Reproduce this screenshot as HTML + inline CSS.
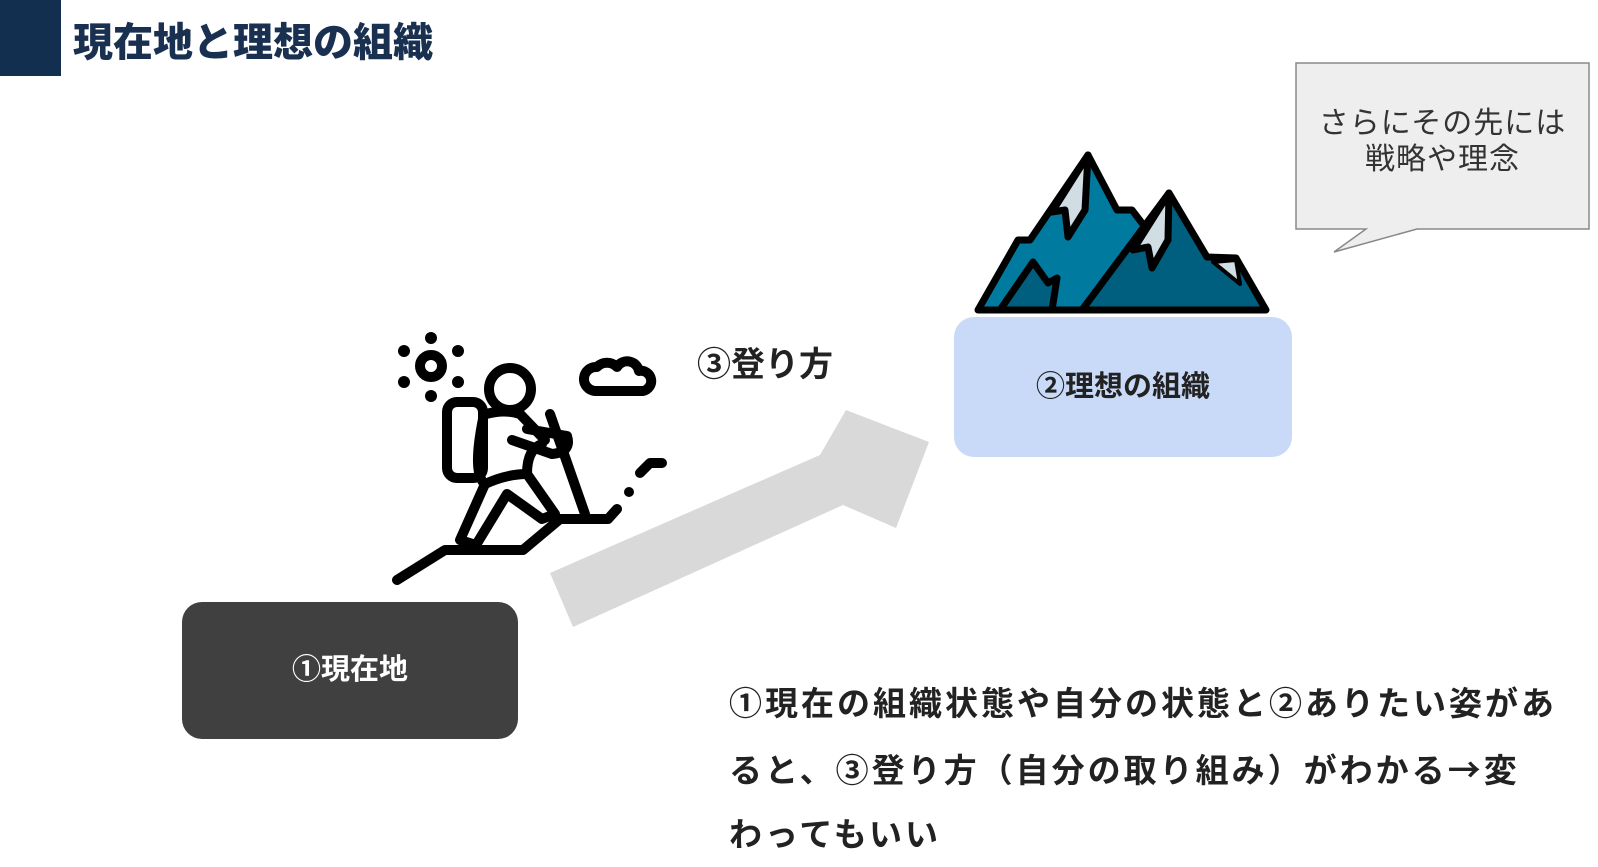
<!DOCTYPE html>
<html><head><meta charset="utf-8"><style>
body{margin:0;width:1598px;height:863px;background:#fff;position:relative;overflow:hidden;font-family:"Liberation Sans","Noto Sans CJK JP",sans-serif;}
.a{position:absolute;}
</style></head><body>
<div class="a" style="left:0;top:0;width:61px;height:76px;background:#132f50"></div>
<div class="a" style="left:73px;top:16px;font-size:40px;font-weight:900;color:#1a3050;line-height:54px">現在地と理想の組織</div>

<svg class="a" style="left:0;top:0" width="1598" height="863">
 <polygon points="1296,63 1589,63 1589,229 1417,229 1334,252 1366,229 1296,229" fill="#eeeeee" stroke="#888" stroke-width="1.5"/>
 <polygon points="550,573 820,455 846,410 929,442 896,528 843,505 573,627" fill="#d9d9d9"/>
 <g stroke="#000" stroke-width="7" stroke-linejoin="round">
  <polygon points="978,310 1018,240 1030,240 1088,155 1117,210 1132,210 1145,227 1082,310" fill="#007a9e"/>
  <polygon points="1082,310 1169,193 1207,257 1236,258 1266,310" fill="#005f7f"/>
  <polygon points="1000,310 1033,262 1048,283 1057,278 1052,310" fill="#005f7f"/>
  <polygon points="1088,155 1052,212 1065,210 1068,237 1085,210" fill="#d0dde2"/>
  <polygon points="1169,193 1133,250 1148,247 1152,268 1168,240" fill="#d0dde2"/>
  <polygon points="1213,262 1236,260 1240,284" fill="#d0dde2" stroke-width="4"/>
 </g>
 <g fill="none" stroke="#000" stroke-width="10" stroke-linecap="round" stroke-linejoin="round">
  <polyline points="397,580 445,550 523,550 560,519 608,519 617,509"/>
  <polyline points="640,473 650,463 662,463"/>
  <line x1="550" y1="414" x2="585" y2="514"/>
  <circle cx="510" cy="389" r="21"/>
  <circle cx="431" cy="366" r="11"/>
  <path d="M617,367 a12,12 0 0 1 22,4 a10,10 0 0 1 4,20 h-48 a12,12 0 0 1 2,-24 a14,14 0 0 1 20,0 z"/>
  <rect x="447" y="402" width="36" height="76" rx="10"/>
  <path d="M486,414 Q505,409 520,414 L545,440"/>
  <path d="M512,440 L552,454 Q572,452 567,436 L527,429"/>
  <path d="M483,419 Q472,474 485,484 L460,540 L476,545 L507,494 L542,519 L555,514 L527,474 Q527,449 542,444"/>
  <path d="M485,484 Q507,474 527,474"/>
 </g>
 <g fill="#000">
  <circle cx="629" cy="492" r="5"/>
  <circle cx="431" cy="338" r="6"/><circle cx="431" cy="396" r="6"/>
  <circle cx="404" cy="351" r="6"/><circle cx="458" cy="351" r="6"/>
  <circle cx="404" cy="382" r="6"/><circle cx="458" cy="382" r="6"/>
 </g>
</svg>

<div class="a" style="left:1296px;top:106px;width:293px;text-align:center;font-size:30px;line-height:36px;color:#333;letter-spacing:1px">さらにその先には<br>戦略や理念</div>
<div class="a" style="left:954px;top:317px;width:338px;height:140px;border-radius:20px;background:#c9daf8;text-align:center;line-height:140px;font-size:29px;font-weight:bold;color:#222">②理想の組織</div>
<div class="a" style="left:182px;top:602px;width:336px;height:137px;border-radius:20px;background:#404040;text-align:center;line-height:137px;font-size:29px;font-weight:bold;color:#fff">①現在地</div>
<div class="a" style="left:697px;top:343px;font-size:34px;font-weight:bold;color:#222;line-height:44px">③登り方</div>
<div class="a" style="left:729px;top:672px;width:880px;font-size:33px;font-weight:bold;color:#222;line-height:64px;letter-spacing:3px;white-space:nowrap">①現在の組織状態や自分の状態と②ありたい姿があ<br>ると、③登り方（自分の取り組み）がわかる<span style="font-family:'Noto Sans CJK JP',sans-serif">→</span>変<br>わってもいい</div>
</body></html>
